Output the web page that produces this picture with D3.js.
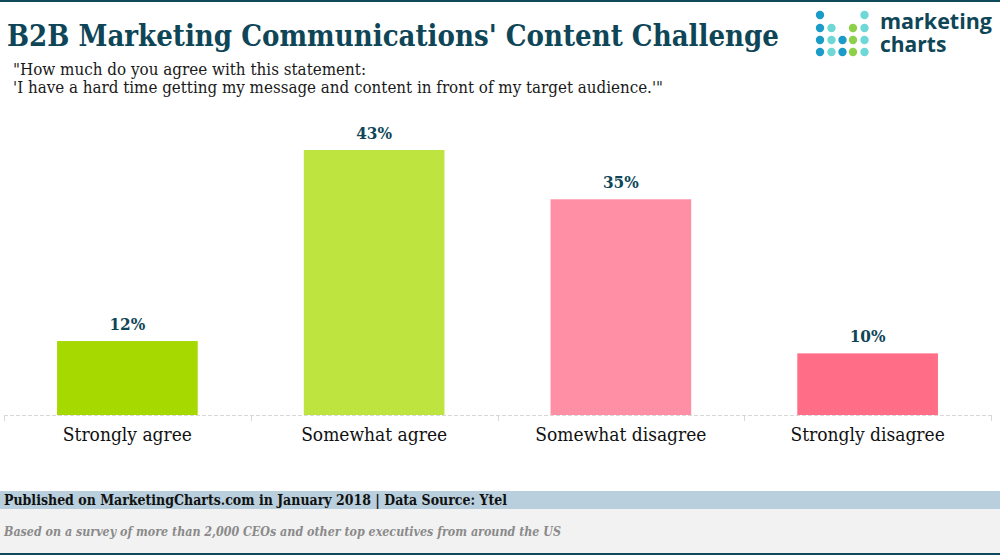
<!DOCTYPE html>
<html>
<head>
<meta charset="utf-8">
<script src="https://cdn.jsdelivr.net/npm/d3@7"></script>
<style>
  body { margin: 0; background: #fff; }
  svg { display: block; }
  .slab { font-family: "Roboto Slab", "DejaVu Serif Condensed", "DejaVu Serif", serif; }
</style>
</head>
<body>
<div id="chart"></div>
<script>
// Chart data
const categories = ["Strongly agree", "Somewhat agree", "Somewhat disagree", "Strongly disagree"];
const values = [12, 43, 35, 10];
const barColors = ["#a6d900", "#bde43f", "#ff8fa4", "#ff6d86"];

const width = 1000, height = 555;
const svg = d3.select("#chart").append("svg")
  .attr("width", width)
  .attr("height", height);

// top rule
svg.append("rect").attr("x", 0).attr("y", 0).attr("width", width).attr("height", 2).attr("fill", "#0e4a5c");

// title + subtitle
svg.append("text").attr("class", "slab")
  .attr("x", 7).attr("y", 46)
  .attr("font-size", 30).attr("font-weight", "bold")
  .attr("fill", "#0e4658")
  .attr("textLength", 772).attr("lengthAdjust", "spacingAndGlyphs")
  .text("B2B Marketing Communications' Content Challenge");

const sub = svg.append("text").attr("class", "slab")
  .attr("font-size", 16).attr("fill", "#1a1a1a");
sub.append("tspan").attr("x", 13).attr("y", 75)
  .attr("textLength", 353).attr("lengthAdjust", "spacingAndGlyphs")
  .text("\"How much do you agree with this statement:");
sub.append("tspan").attr("x", 13).attr("y", 93)
  .attr("textLength", 650).attr("lengthAdjust", "spacingAndGlyphs")
  .text("'I have a hard time getting my message and content in front of my target audience.'\"");

// logo
const dotCols = [820, 831.5, 842.5, 853, 864.5];
const dotRows = [15, 28, 40, 52];
const logoDots = [
  [0, 0, "#1b9cc8"], [4, 0, "#6dd8d5"],
  [0, 1, "#1b9cc8"], [1, 1, "#6dd8d5"], [3, 1, "#8fd04a"], [4, 1, "#6dd8d5"],
  [0, 2, "#1b9cc8"], [1, 2, "#6dd8d5"], [2, 2, "#1b9cc8"], [3, 2, "#8fd04a"], [4, 2, "#6dd8d5"],
  [0, 3, "#1b9cc8"], [1, 3, "#6dd8d5"], [2, 3, "#1b9cc8"], [3, 3, "#8fd04a"], [4, 3, "#6dd8d5"]
];
svg.append("g").selectAll("circle")
  .data(logoDots)
  .enter()
  .append("circle")
  .attr("cx", d => dotCols[d[0]])
  .attr("cy", d => dotRows[d[1]])
  .attr("r", 4.2)
  .attr("fill", d => d[2]);

const logoText = svg.append("text")
  .attr("font-family", "Open Sans, sans-serif").attr("font-weight", "bold")
  .attr("font-size", 21).attr("fill", "#0e4658");
logoText.append("tspan").attr("x", 880).attr("y", 29)
  .attr("textLength", 112).attr("lengthAdjust", "spacingAndGlyphs")
  .text("marketing");
logoText.append("tspan").attr("x", 880).attr("y", 52)
  .text("charts");

// scales
const baseY = 415;
const x = d3.scaleBand()
  .domain(categories)
  .range([4, 991])
  .paddingInner(0.43)
  .paddingOuter(0.215);

const y = d3.scaleLinear()
  .domain([0, 43])
  .range([baseY, 150]);

// x axis
const axis = svg.append("g")
  .attr("transform", `translate(0,${baseY})`)
  .call(d3.axisBottom(x).tickSize(0).tickPadding(13));
axis.select(".domain").remove();
axis.selectAll("text")
  .attr("class", "slab")
  .attr("font-size", 19)
  .attr("fill", "#111");

svg.append("line")
  .attr("x1", 4).attr("x2", 991)
  .attr("y1", baseY + 0.5).attr("y2", baseY + 0.5)
  .attr("stroke", "#d8d8d8").attr("stroke-dasharray", "4,2");

// band dividers
const step = x.step();
const dividers = d3.range(categories.length + 1).map(i => 4 + i * step);
svg.append("g").selectAll("line")
  .data(dividers)
  .enter()
  .append("line")
  .attr("x1", d => Math.round(d) + 0.5).attr("x2", d => Math.round(d) + 0.5)
  .attr("y1", baseY).attr("y2", baseY + 6)
  .attr("stroke", "#d8d8d8");

// bars
svg.append("g").selectAll("rect")
  .data(values)
  .enter()
  .append("rect")
  .attr("x", (d, i) => x(categories[i]))
  .attr("y", d => y(d))
  .attr("width", x.bandwidth())
  .attr("height", d => baseY - y(d))
  .attr("fill", (d, i) => barColors[i]);

// value labels
svg.append("g").selectAll("text")
  .data(values)
  .enter()
  .append("text")
  .attr("class", "slab")
  .attr("x", (d, i) => x(categories[i]) + x.bandwidth() / 2)
  .attr("y", d => y(d) - 11)
  .attr("text-anchor", "middle")
  .attr("font-size", 17).attr("font-weight", "bold")
  .attr("fill", "#0e4658")
  .text(d => d + "%");

// footer
svg.append("rect").attr("x", 0).attr("y", 491).attr("width", width).attr("height", 18).attr("fill", "#b9cfdd");
svg.append("rect").attr("x", 0).attr("y", 509).attr("width", width).attr("height", 44).attr("fill", "#f2f2f2");
svg.append("rect").attr("x", 0).attr("y", 553).attr("width", width).attr("height", 2).attr("fill", "#0e4a5c");

svg.append("text").attr("class", "slab")
  .attr("x", 4).attr("y", 505)
  .attr("font-size", 14).attr("font-weight", "bold").attr("fill", "#111")
  .attr("textLength", 503).attr("lengthAdjust", "spacingAndGlyphs")
  .text("Published on MarketingCharts.com in January 2018 | Data Source: Ytel");

svg.append("text").attr("class", "slab")
  .attr("x", 4).attr("y", 536)
  .attr("font-size", 12.5).attr("font-style", "italic").attr("font-weight", "bold")
  .attr("fill", "#8a8a8a")
  .attr("textLength", 557).attr("lengthAdjust", "spacingAndGlyphs")
  .text("Based on a survey of more than 2,000 CEOs and other top executives from around the US");
</script>
</body>
</html>
